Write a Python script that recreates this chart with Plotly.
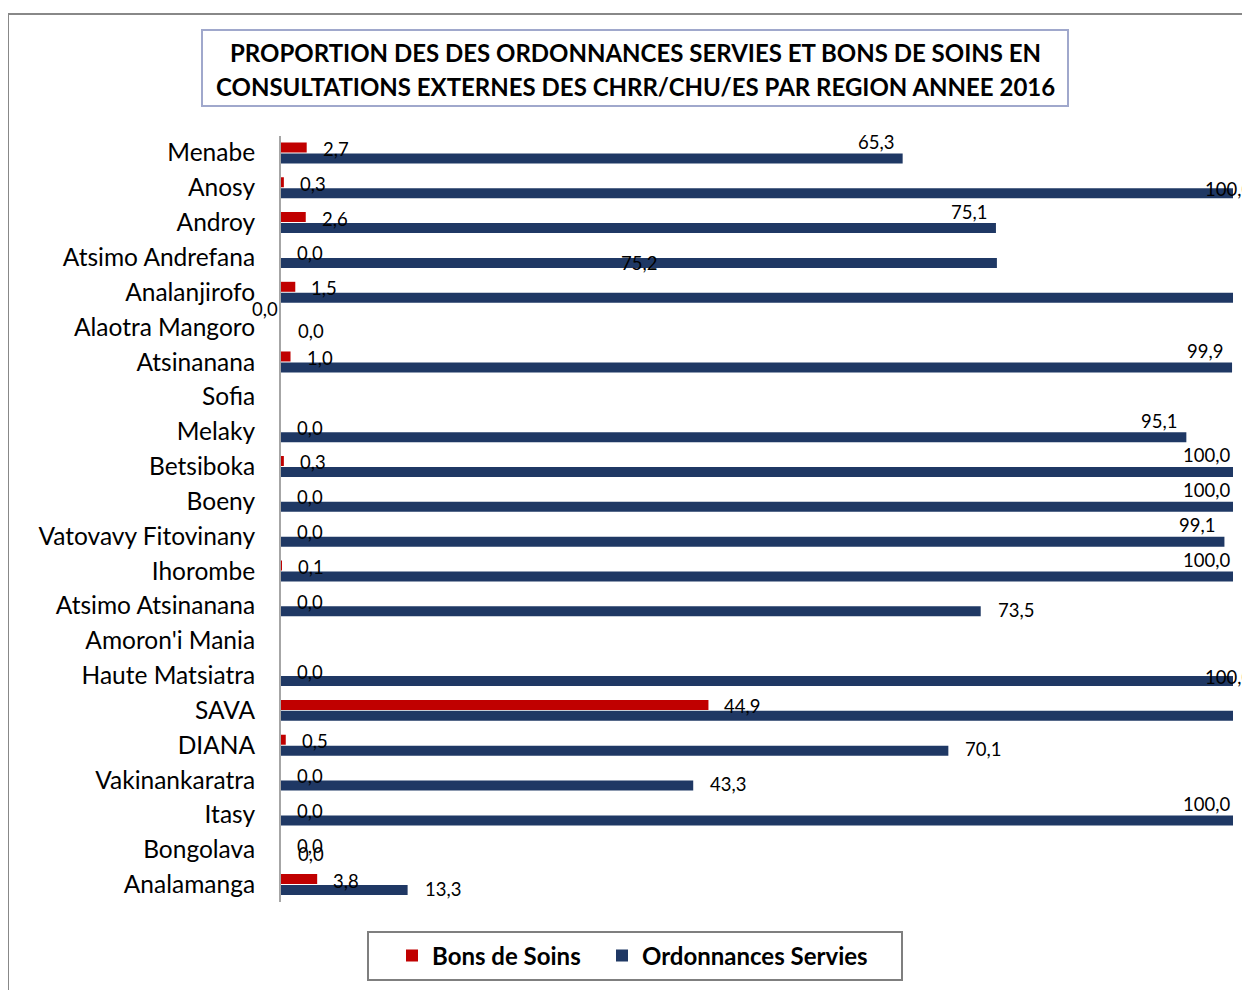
import plotly.graph_objects as go

# ---------------- data ----------------
regions = [
    "Menabe", "Anosy", "Androy", "Atsimo Andrefana", "Analanjirofo",
    "Alaotra Mangoro", "Atsinanana", "Sofia", "Melaky", "Betsiboka",
    "Boeny", "Vatovavy Fitovinany", "Ihorombe", "Atsimo Atsinanana",
    "Amoron'i Mania", "Haute Matsiatra", "SAVA", "DIANA",
    "Vakinankaratra", "Itasy", "Bongolava", "Analamanga",
]
bons_de_soins = [2.7, 0.3, 2.6, 0.0, 1.5, 0.0, 1.0, None, 0.0, 0.3,
                 0.0, 0.0, 0.1, 0.0, None, 0.0, 44.9, 0.5, 0.0, 0.0, 0.0, 3.8]
ordonnances_servies = [65.3, 100.0, 75.1, 75.2, 100.0, 0.0, 99.9, None, 95.1, 100.0,
                       100.0, 99.1, 100.0, 73.5, None, 100.0, 100.0, 70.1, 43.3, 100.0, 0.0, 13.3]

# label placement style per point (how the original data labels were arranged)
red_label_mode = ["right"] * 5 + ["left"] + ["right"] * 16
red_label_mode[7] = "none"
red_label_mode[14] = "none"
blue_label_mode = [
    "above", "edge", "above", "mid", "none", "right", "above", "none", "above", "above",
    "above", "above", "above", "right", "none", "edge", "none", "right", "right", "above",
    "right", "right",
]

series_names = ["Bons de Soins", "Ordonnances Servies"]
colors = ["#C00000", "#1F3864"]
title_lines = ["PROPORTION DES DES ORDONNANCES SERVIES ET BONS DE SOINS EN",
               "CONSULTATIONS EXTERNES DES CHRR/CHU/ES PAR REGION ANNEE 2016"]

# page body has an 8px margin; work in page pixels and convert
OFF = 8
W, H = 1250 - OFF, 990 - OFF
FONT = "Lato"


def px(x):
    return (x - OFF) / W


def py(y):
    return 1 - (y - OFF) / H


fig = go.Figure()
fig.add_trace(go.Bar(y=regions, x=bons_de_soins, orientation="h", name=series_names[0],
                     marker=dict(color=colors[0], line=dict(width=0)), legend="legend"))
fig.add_trace(go.Bar(y=regions, x=ordonnances_servies, orientation="h", name=series_names[1],
                     marker=dict(color=colors[1], line=dict(width=0)), legend="legend2"))


def fmt(v):
    return f"{v:.1f}".replace(".", ",")


annotations = []
lab_font = dict(family=FONT, size=18.5, color="#000000")
for cat, v, mode in zip(regions, bons_de_soins, red_label_mode):
    if v is None or mode == "none":
        continue
    if mode == "left":
        annotations.append(dict(x=v, y=cat, xref="x", yref="y", text=fmt(v), showarrow=False,
                                xanchor="right", yanchor="middle", xshift=-1, yshift=18, font=lab_font))
    else:
        annotations.append(dict(x=v, y=cat, xref="x", yref="y", text=fmt(v), showarrow=False,
                                xanchor="left", yanchor="middle", xshift=14, yshift=4, font=lab_font))
for cat, v, mode in zip(regions, ordonnances_servies, blue_label_mode):
    if v is None or mode == "none":
        continue
    if mode == "above":
        a = dict(x=v, xanchor="center", xshift=-27, yshift=11)
    elif mode == "edge":
        a = dict(x=v, xanchor="center", xshift=-5, yshift=-1)
    elif mode == "mid":
        a = dict(x=v / 2, xanchor="center", xshift=0, yshift=-6)
    else:
        a = dict(x=v, xanchor="left", xshift=15, yshift=-4)
    a.update(y=cat, xref="x", yref="y", text=fmt(v), showarrow=False, yanchor="middle", font=lab_font)
    annotations.append(a)

# title (two lines)
for line, yc in zip(title_lines, [52, 86]):
    annotations.append(dict(x=px(635), y=py(yc), xref="paper", yref="paper", text="<b>" + line + "</b>",
                            showarrow=False, xanchor="center", yanchor="middle",
                            font=dict(family=FONT, size=24, color="#000000")))

shapes = [
    # outer chart frame
    dict(type="rect", xref="paper", yref="paper", x0=px(8), y0=py(1010), x1=px(1270), y1=py(14),
         line=dict(color="#888888", width=2)),
    # title box
    dict(type="rect", xref="paper", yref="paper", x0=px(202), y0=py(106), x1=px(1068), y1=py(30),
         line=dict(color="#A0A8CC", width=2)),
    # legend box
    dict(type="rect", xref="paper", yref="paper", x0=px(368), y0=py(980), x1=px(902), y1=py(932),
         line=dict(color="#7F7F7F", width=2)),
]

leg_font = dict(family=FONT, size=24, color="#000000", weight="bold")
fig.update_layout(
    width=W, height=H,
    margin=dict(l=0, r=0, t=0, b=0),
    paper_bgcolor="white", plot_bgcolor="white",
    barmode="group", bargap=0.37, bargroupgap=0.09,
    showlegend=True,
    legend=dict(orientation="h", x=px(392), y=py(956), xanchor="left", yanchor="middle",
                borderwidth=0, bgcolor="rgba(0,0,0,0)", font=leg_font),
    legend2=dict(orientation="h", x=px(602), y=py(956), xanchor="left", yanchor="middle",
                 borderwidth=0, bgcolor="rgba(0,0,0,0)", font=leg_font),
    font=dict(family=FONT),
    annotations=annotations,
    shapes=shapes,
    xaxis=dict(domain=[px(281), px(1233)], range=[0, 100], visible=False, fixedrange=True),
    yaxis=dict(domain=[py(902), py(135.5)], autorange="reversed", type="category",
               showline=True, linecolor="#A6A6A6", linewidth=2, ticks="",
               showgrid=False, ticklabelstandoff=19,
               tickfont=dict(family=FONT, size=24.5, color="#000000")),
)

fig.write_html("out.html")
